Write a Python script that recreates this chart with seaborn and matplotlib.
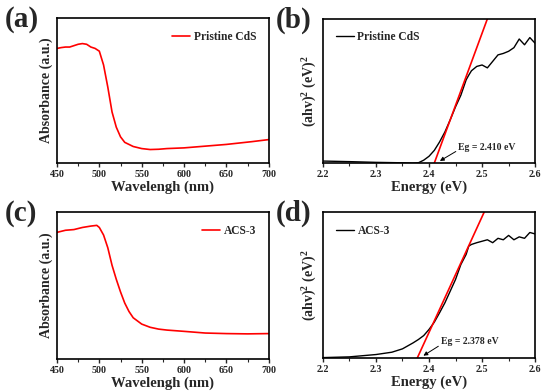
import numpy as np
import pandas as pd
import matplotlib
matplotlib.use("Agg")
import matplotlib.pyplot as plt
from matplotlib.ticker import AutoMinorLocator
import seaborn as sns

# Absorbance spectra (a.u., normalised to the plot height)
wl_cds = [450, 455, 460, 465, 470, 475, 480, 485, 490, 495, 500, 505, 510, 515,
          520, 525, 530, 540, 550, 560, 570, 580, 600, 620, 650, 680, 700]
abs_cds = [0.78, 0.786, 0.79, 0.79, 0.80, 0.81, 0.815, 0.81, 0.79, 0.78, 0.76, 0.66,
           0.50, 0.32, 0.21, 0.14, 0.10, 0.07, 0.055, 0.048, 0.05, 0.055, 0.06,
           0.07, 0.085, 0.105, 0.12]

wl_acs = [450, 460, 470, 480, 490, 497, 500, 505, 510, 515, 520, 525, 530, 535,
          540, 550, 560, 570, 580, 600, 625, 650, 675, 700]
abs_acs = [0.855, 0.87, 0.875, 0.89, 0.90, 0.905, 0.89, 0.836, 0.745, 0.62, 0.52,
           0.43, 0.35, 0.29, 0.245, 0.20, 0.177, 0.164, 0.157, 0.148, 0.136,
           0.132, 0.13, 0.132]

# Tauc plots
e_cds = [2.20, 2.25, 2.30, 2.35, 2.37, 2.38, 2.39, 2.40, 2.41, 2.42, 2.43, 2.44,
         2.45, 2.46, 2.47, 2.475, 2.48, 2.49, 2.50, 2.51, 2.52, 2.53, 2.54, 2.55,
         2.56, 2.57, 2.58, 2.59, 2.60]
t_cds = [0.014, 0.01, 0.005, 0.002, 0.0, 0.002, 0.02, 0.047, 0.088, 0.147, 0.216,
         0.30, 0.39, 0.47, 0.577, 0.61, 0.64, 0.67, 0.68, 0.66, 0.705, 0.75, 0.76,
         0.775, 0.80, 0.86, 0.82, 0.87, 0.83]
fit_cds_x = [2.410, 2.510]
fit_cds_y = [0.0, 1.0]

e_acs = [2.20, 2.25, 2.30, 2.33, 2.35, 2.37, 2.38, 2.39, 2.40, 2.41, 2.42, 2.43,
         2.44, 2.45, 2.46, 2.465, 2.47, 2.475, 2.48, 2.49, 2.50, 2.51, 2.52, 2.53,
         2.54, 2.55, 2.56, 2.57, 2.58, 2.59, 2.60]
t_acs = [0.002, 0.007, 0.023, 0.039, 0.062, 0.103, 0.126, 0.153, 0.195, 0.245,
         0.31, 0.378, 0.458, 0.538, 0.64, 0.675, 0.71, 0.767, 0.778, 0.79, 0.80,
         0.81, 0.79, 0.82, 0.81, 0.84, 0.81, 0.83, 0.82, 0.86, 0.85]
fit_acs_x = [2.378, 2.504]
fit_acs_y = [0.0, 1.0]

sns.set_style("ticks")
plt.rcParams["font.family"] = ["Liberation Serif", "DejaVu Serif"]
plt.rcParams["font.weight"] = "bold"
plt.rcParams["axes.labelweight"] = "bold"
plt.rcParams["axes.linewidth"] = 1.2
plt.rcParams["mathtext.fontset"] = "custom"
plt.rcParams["mathtext.rm"] = "Liberation Serif:bold"
plt.rcParams["mathtext.bf"] = "Liberation Serif:bold"
plt.rcParams["mathtext.default"] = "bf"

fig = plt.figure(figsize=(5.5, 3.92), dpi=100)
ax_a = fig.add_axes([0.1036, 0.584, 0.385, 0.370])
ax_b = fig.add_axes([0.587, 0.584, 0.386, 0.368])
ax_c = fig.add_axes([0.1036, 0.084, 0.385, 0.375])
ax_d = fig.add_axes([0.587, 0.087, 0.386, 0.372])


def abs_panel(ax, x, y, name):
    sns.lineplot(x=x, y=y, ax=ax, color="red", lw=1.2, label=name)
    ax.set_xlim(450, 700)
    ax.set_ylim(-0.05, 1.0)
    ax.set_xticks([450, 500, 550, 600, 650, 700])
    ax.set_yticks([])
    ax.set_xlabel("Wavelengh (nm)", fontsize=10.5, labelpad=1)
    ax.set_ylabel("Absorbance (a.u.)", fontsize=10, labelpad=3)
    ax.legend(loc="upper right", frameon=False, fontsize=8.3, handlelength=1.6,
              handletextpad=0.3, borderaxespad=0.7)


def tauc_panel(ax, x, y, fx, fy, name, eg, txt_xy, arr_from, arr_to):
    sns.lineplot(x=x, y=y, ax=ax, color="black", lw=1.0, label=name)
    sns.lineplot(x=fx, y=fy, ax=ax, color="red", lw=1.2)
    ax.set_xlim(2.2, 2.6)
    ax.set_ylim(0, 1.0)
    ax.set_xticks([2.2, 2.3, 2.4, 2.5, 2.6])
    ax.set_yticks([])
    ax.set_xlabel("Energy (eV)", fontsize=10.5, labelpad=1)
    ax.set_ylabel(r"(ahv)$^{2}$ (eV)$^{2}$", fontsize=10, labelpad=3)
    ax.annotate("", xy=arr_to, xytext=arr_from,
                arrowprops=dict(arrowstyle="-|>", color="black", lw=0.7,
                                mutation_scale=6))
    ax.text(txt_xy[0], txt_xy[1], f"Eg = {eg} eV", fontsize=7, va="center")
    ax.legend(loc="upper left", frameon=False, fontsize=8.3, handlelength=1.6,
              handletextpad=0.3, borderaxespad=0.7)


abs_panel(ax_a, wl_cds, abs_cds, "Pristine CdS")
abs_panel(ax_c, wl_acs, abs_acs, "ACS-3")
tauc_panel(ax_b, e_cds, t_cds, fit_cds_x, fit_cds_y, "Pristine CdS", "2.410",
           (2.455, 0.11), (2.455, 0.09), (2.416, 0.005))
tauc_panel(ax_d, e_acs, t_acs, fit_acs_x, fit_acs_y, "ACS-3", "2.378",
           (2.423, 0.114), (2.422, 0.09), (2.385, 0.005))

for ax in (ax_a, ax_b, ax_c, ax_d):
    ax.xaxis.set_minor_locator(AutoMinorLocator(2))
    ax.tick_params(axis="x", which="major", direction="out", labelsize=7.2,
                   length=3, width=1, pad=2)
    ax.tick_params(axis="x", which="minor", direction="out", length=2, width=0.8)
    for sp in ax.spines.values():
        sp.set_visible(True)
        sp.set_color("black")

for lab, (px, py) in zip(["(a)", "(b)", "(c)", "(d)"],
                         [(0.008, 0.949), (0.502, 0.949), (0.008, 0.455), (0.502, 0.455)]):
    fig.text(px, py, lab, fontsize=21, fontweight="bold", va="center", ha="left")

fig.savefig("out.png", dpi=100)
